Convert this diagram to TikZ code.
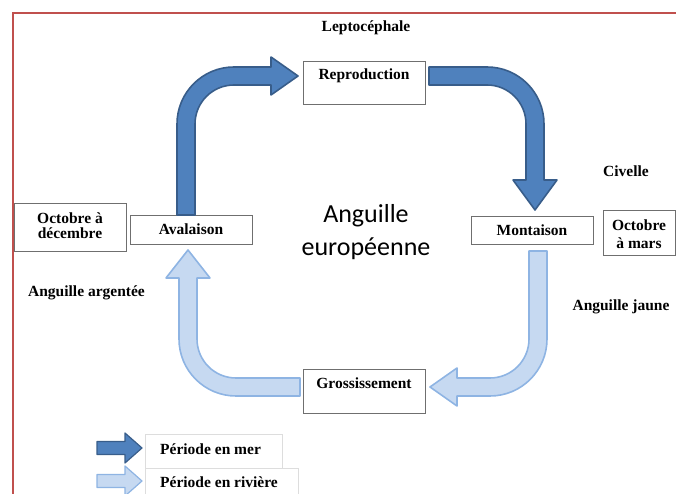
\documentclass[tikz,border=0pt]{standalone}
\usepackage{fontspec}
\setmainfont{Liberation Serif}
\newfontfamily\titlefont{Carlito}

\definecolor{framered}{HTML}{C0504D}
\definecolor{seafill}{HTML}{4F81BD}
\definecolor{seadraw}{HTML}{385D8A}
\definecolor{riverfill}{HTML}{C6D9F1}
\definecolor{riverdraw}{HTML}{8EB4E3}
\definecolor{boxgrey}{HTML}{6F6F6F}
\definecolor{leggrey}{HTML}{DDDDDD}

\tikzset{
  stage/.style={draw=boxgrey, line width=0.9pt, fill=white, inner sep=0pt},
  lbl/.style={font=\fontsize{15.5}{18}\selectfont\bfseries, inner sep=0pt, align=center},
  legbox/.style={draw=leggrey, line width=0.8pt, fill=white, inner sep=0pt, anchor=north west},
  sea/.style={fill=seafill, draw=seadraw, line width=1.6pt, line join=round},
  river/.style={fill=riverfill, draw=riverdraw, line width=1.6pt, line join=round},
}

\begin{document}
\begin{tikzpicture}[x=1pt, y=1pt]
\useasboundingbox (0,0) rectangle (676,494);
\begin{scope}
\clip (0,0) rectangle (676,494);

% outer frame
\draw[framered, line width=2pt] (13,-10) -- (13,481) -- (690,481);

% stage boxes
\node[stage, minimum width=122pt, minimum height=43pt] (repro) at (364,411.5) {};
\node[stage, minimum width=122pt, minimum height=29pt] (aval) at (191,264.5) {};
\node[stage, minimum width=112pt, minimum height=48pt] (octdec) at (70,267) {};
\node[stage, minimum width=122pt, minimum height=28pt] (mont) at (532,264) {};
\node[stage, minimum width=72pt, minimum height=45pt] (octmars) at (639,261.5) {};
\node[stage, minimum width=122pt, minimum height=44pt] (gross) at (364,103) {};

% stage labels
\node[lbl] (reprot) at (364,418) {Reproduction};
\node[lbl] (avalt) at (191,264.5) {Avalaison};
\node[lbl, font=\fontsize{15.5}{15}\selectfont\bfseries] (octdect) at (70,268.5) {Octobre à\\décembre};
\node[lbl] (montt) at (532,264) {Montaison};
\node[lbl, font=\fontsize{15.5}{18.5}\selectfont\bfseries] (octmarst) at (639,260) {Octobre\\à mars};
\node[lbl] (grosst) at (364,111) {Grossissement};

% life-stage names
\node[lbl] (lepto) at (366,466) {Leptocéphale};
\node[lbl] (civ) at (626,323) {Civelle};
\node[lbl] (argent) at (86.5,201) {Anguille argentée};
\node[lbl] (jaune) at (621,187) {Anguille jaune};

% title
\node[font=\titlefont\fontsize{26}{33}\selectfont, align=center, inner sep=0pt] (title) at (366,262) {Anguille\\européenne};

% sea migration arrows
\path[sea] (177,279) -- (177,370) arc[start angle=180, end angle=90, radius=57]
  -- (271,427) -- (271,437) -- (298,418) -- (271,399) -- (271,409) -- (234,409)
  arc[start angle=90, end angle=180, radius=39] -- (195,279) -- cycle;
\path[sea] (429,427) -- (487,427) arc[start angle=90, end angle=0, radius=57]
  -- (544,314) -- (557,314) -- (535,284) -- (513,314) -- (526,314) -- (526,370)
  arc[start angle=0, end angle=90, radius=39] -- (429,409) -- cycle;

% river arrows
\path[river] (547,243) -- (547,155) arc[start angle=0, end angle=-90, radius=57]
  -- (457,98) -- (457,88) -- (430,107) -- (457,126) -- (457,116) -- (490,116)
  arc[start angle=-90, end angle=0, radius=39] -- (529,243) -- cycle;
\path[river] (300,98) -- (236,98) arc[start angle=270, end angle=180, radius=57]
  -- (179,216) -- (166,216) -- (188,244) -- (210,216) -- (197,216) -- (197,155)
  arc[start angle=180, end angle=270, radius=39] -- (300,116) -- cycle;

% legend
\node[legbox, minimum width=153pt, minimum height=34pt] (legriv) at (145,26) {};
\node[legbox, minimum width=137pt, minimum height=34pt] (legsea) at (145,60) {};
\path[sea, line width=1.2pt] (97,52.5) -- (125,52.5) -- (125,61) -- (142,46)
  -- (125,31) -- (125,39.5) -- (97,39.5) -- cycle;
\path[river, line width=1.2pt] (97,19.5) -- (125,19.5) -- (125,28) -- (142,13)
  -- (125,-2) -- (125,6.5) -- (97,6.5) -- cycle;
\node[lbl, anchor=west] (legseat) at (160,45) {Période en mer};
\node[lbl, anchor=west] (legrivt) at (160,12) {Période en rivière};
\end{scope}
\end{tikzpicture}
\end{document}
